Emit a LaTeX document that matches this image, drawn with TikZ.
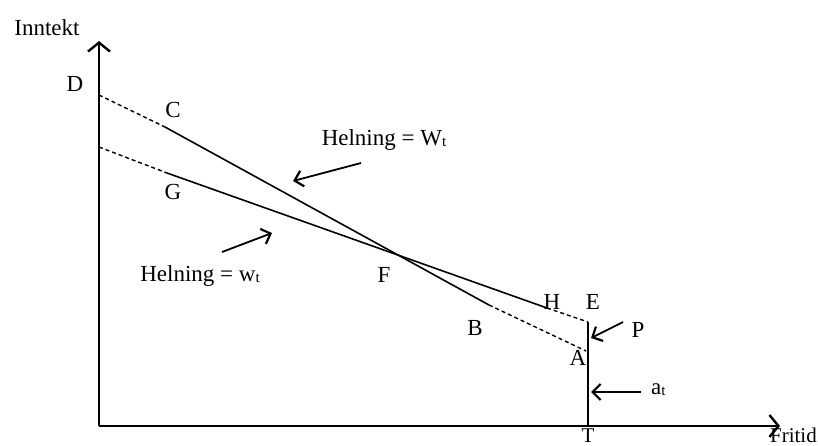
\documentclass[tikz,border=0pt]{standalone}
\usepackage{fontspec}
\setmainfont{Liberation Serif}
\usetikzlibrary{arrows.meta}
\newcommand{\sbt}{\raisebox{-1.5pt}{\fontsize{15}{15}\selectfont t}}
\begin{document}
\begin{tikzpicture}[x=1pt,y=-1pt,
  axis/.style={line width=2.2pt,-{Straight Barb[length=9pt,width=22pt,line width=2.4pt]}},
  solidln/.style={line width=1.6pt},
  dashln/.style={line width=1.4pt,dash pattern=on 4pt off 3pt},
  ptr/.style={line width=1.8pt,-{Straight Barb[length=8pt,width=16pt,line width=2.2pt]}},
  lbl/.style={font=\fontsize{23}{25}\selectfont,inner sep=0pt,anchor=base}]
\useasboundingbox (0,0) rectangle (818,445);
% axes
\coordinate (O) at (99,426);
\coordinate (Ytop) at (99,41);
\coordinate (Xend) at (780,426);
\draw[axis] (O) -- (Ytop);
\draw[axis] (O) -- (Xend);
% line 1 (steep)
\coordinate (D0) at (99,95);
\coordinate (C1) at (165,127);
\coordinate (B1) at (489,305);
\coordinate (A1) at (586,351);
\draw[dashln] (D0) -- (C1);
\draw[solidln] (C1) -- (B1);
\draw[dashln] (B1) -- (A1);
% line 2 (flat)
\coordinate (G0) at (99,147);
\coordinate (G1) at (167,173);
\coordinate (H1) at (547,308);
\coordinate (E1) at (588,322);
\coordinate (T1) at (588,426);
\draw[dashln] (G0) -- (G1);
\draw[solidln] (G1) -- (H1);
\draw[dashln] (H1) -- (E1);
\draw[line width=2.2pt] (E1) -- (T1);
% labels
\node[lbl] (inntekt) at (47,35) {Inntekt};
\node[lbl] (lD) at (75,91) {D};
\node[lbl] (lC) at (173,117) {C};
\node[lbl] (lG) at (173,199) {G};
\node[lbl] (hW) at (384,145) {Helning = W\sbt};
\node[lbl] (hw) at (200,281) {Helning = w\sbt};
\node[lbl] (lF) at (384,282) {F};
\node[lbl] (lB) at (475,335) {B};
\node[lbl] (lH) at (552,309) {H};
\node[lbl] (lE) at (593,309) {E};
\node[lbl] (lP) at (638,337) {P};
\node[lbl] (lA) at (578,365) {A};
\node[lbl,anchor=base west] (lat) at (651,394) {a\sbt};
\node[lbl,font=\fontsize{21}{23}\selectfont] (lT) at (588,442) {T};
\node[lbl,font=\fontsize{21}{23}\selectfont,anchor=base east] (fritid) at (817,442) {Fritid};
% pointer arrows
\coordinate (pW0) at (361,163); \coordinate (pW1) at (293,181);
\coordinate (pw0) at (222,252); \coordinate (pw1) at (272,233);
\coordinate (pP0) at (623,322); \coordinate (pP1) at (591,338);
\coordinate (pa0) at (641,392); \coordinate (pa1) at (591,392);
\draw[ptr] (pW0) -- (pW1);
\draw[ptr] (pw0) -- (pw1);
\draw[ptr] (pP0) -- (pP1);
\draw[ptr] (pa0) -- (pa1);
\end{tikzpicture}
\end{document}
